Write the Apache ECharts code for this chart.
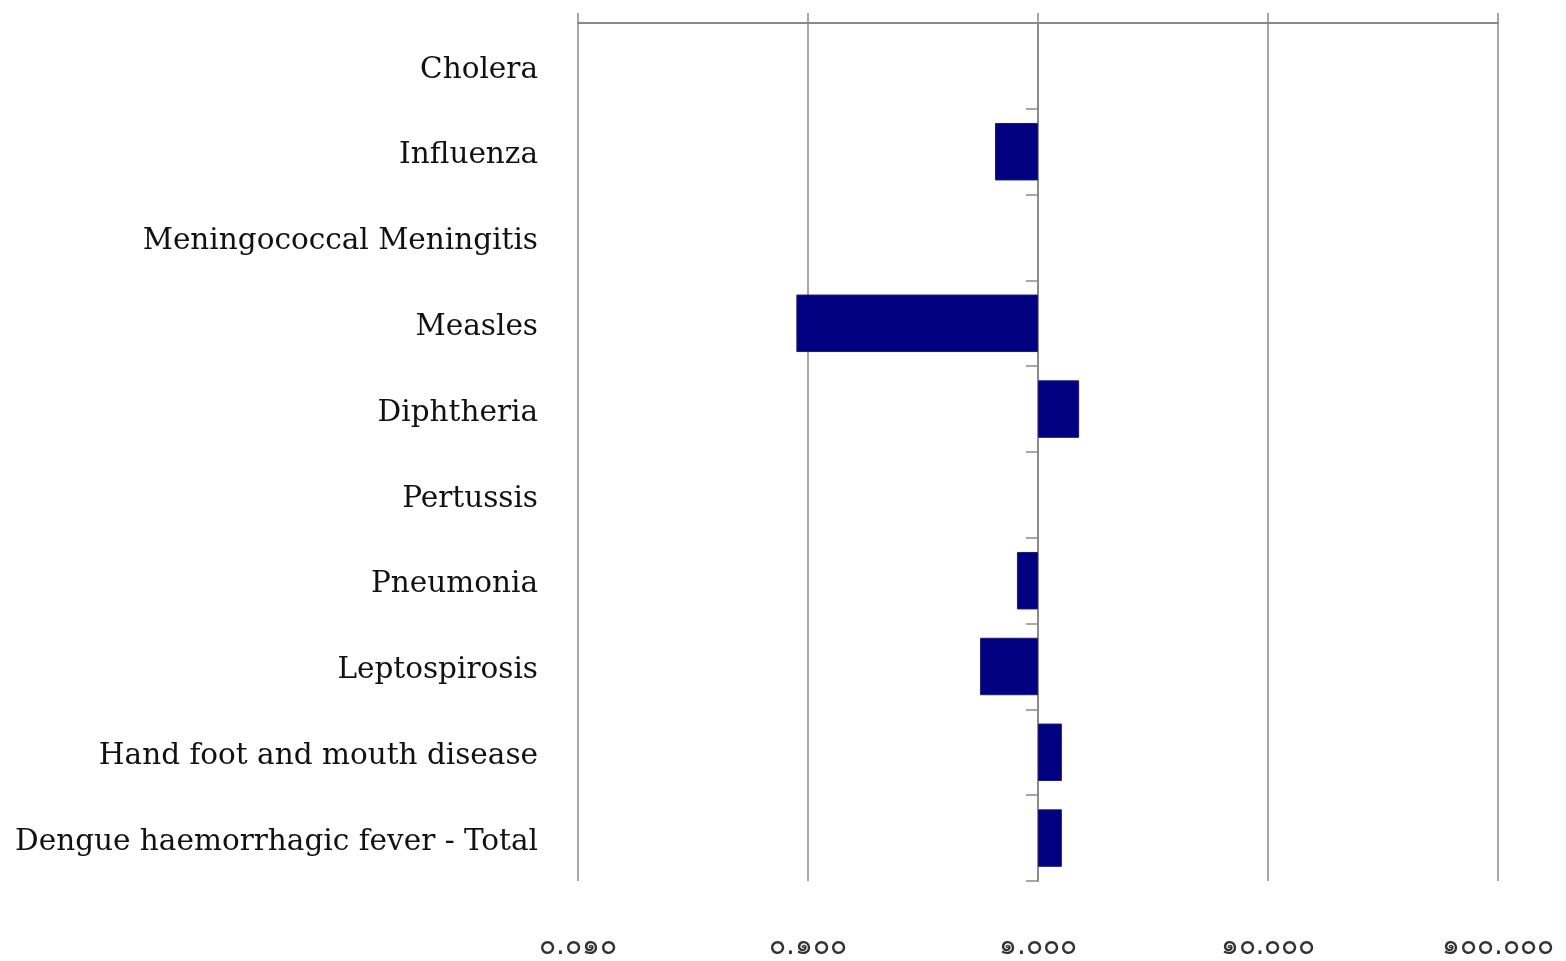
<!DOCTYPE html>
<html><head><meta charset="utf-8">
<script src="https://cdn.jsdelivr.net/npm/echarts@6/dist/echarts.min.js"></script>
<style>html,body{margin:0;padding:0;background:#fff}#c{width:1566px;height:961px}</style>
</head><body><div id="c"></div>
<script>
const categories = ["Cholera","Influenza","Meningococcal Meningitis","Measles","Diphtheria","Pertussis","Pneumonia","Leptospirosis","Hand foot and mouth disease","Dengue haemorrhagic fever - Total"];
const ratios = [null, 0.65, null, 0.089, 1.51, null, 0.81, 0.56, 1.27, 1.27];
const tickValues = [0.01, 0.1, 1, 10, 100];
const tickLabels = ["๐.๐๑๐", "๐.๑๐๐", "๑.๐๐๐", "๑๐.๐๐๐", "๑๐๐.๐๐๐"];

const chart = echarts.init(document.getElementById('c'));
const labelFor = v => {
  let best = 0;
  tickValues.forEach((t, i) => { if (Math.abs(Math.log10(t) - Math.log10(v)) < Math.abs(Math.log10(tickValues[best]) - Math.log10(v))) best = i; });
  return tickLabels[best];
};
const gridLeft = 578, gridRight = 68;
chart.setOption({
  animation: false,
  grid: {left: gridLeft, right: gridRight, top: 23, bottom: 79, containLabel: false},
  xAxis: [
    {type: 'log', logBase: 10, min: 0.01, max: 100, position: 'top',
     axisLine: {show: true, lineStyle: {color: '#8a8a8a', width: 2}},
     axisTick: {show: true, length: 10, lineStyle: {color: '#8a8a8a', width: 1.5}},
     axisLabel: {show: false},
     splitLine: {show: true, lineStyle: {color: '#8a8a8a', width: 1.5}},
     minorTick: {show: false}},
    {type: 'log', logBase: 10, min: 0.01, max: 100, position: 'bottom',
     axisLine: {show: false}, axisTick: {show: false}, splitLine: {show: false},
     axisLabel: {show: true, margin: 52, color: '#333', fontSize: 28, fontFamily: 'DejaVu Sans',
       formatter: v => labelFor(v)}}
  ],
  yAxis: [{
    type: 'category', data: categories, inverse: true, position: 'left',
    offset: -(1038 - gridLeft),
    axisLine: {show: true, lineStyle: {color: '#8a8a8a', width: 2}},
    axisTick: {show: true, length: 12, lineStyle: {color: '#8a8a8a', width: 1.5}},
    axisLabel: {show: true, margin: 500, formatter: v => '{a|' + v + '}',
      rich: {a: {color: '#111', fontSize: 29.5, fontFamily: 'DejaVu Serif', padding: [8, 0, 0, 0]}}},
    splitLine: {show: false}
  }],
  series: [{
    type: 'bar', xAxisIndex: 0, yAxisIndex: 0, data: ratios,
    barCategoryGap: '33%',
    itemStyle: {color: '#000080', borderColor: '#1c1c6e', borderWidth: 1}
  }]
});
</script></body></html>
